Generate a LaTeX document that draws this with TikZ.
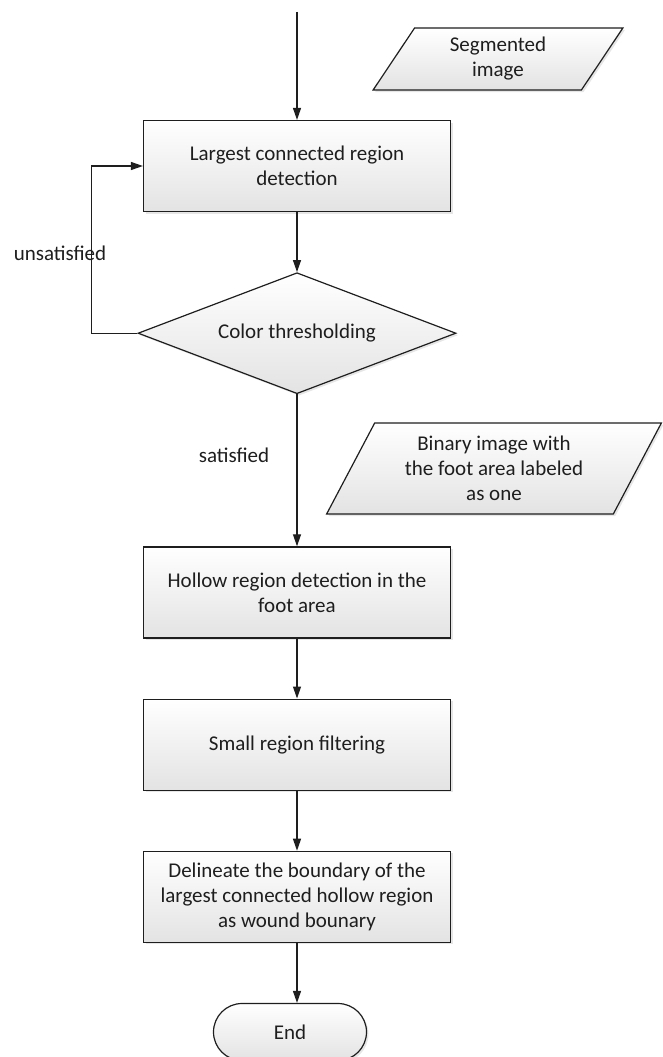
\documentclass[tikz,border=0pt]{standalone}
\usepackage{fontspec}
\setmainfont{Carlito}
\usepackage{tikz}
\usetikzlibrary{positioning,shapes.geometric,shapes.misc,shadows,arrows.meta}

\definecolor{inkgray}{HTML}{1E1E1E}
\tikzset{
  box/.style={draw=inkgray, line width=1.2pt, top color=white, bottom color=gray!22,
    drop shadow={opacity=0.2, shadow xshift=2pt, shadow yshift=-2pt},
    font=\fontsize{21pt}{25pt}\selectfont, text=inkgray, align=center},
  proc/.style={box, rectangle, minimum width=307pt, minimum height=91pt, inner sep=0pt},
  decide/.style={box, diamond, shape aspect=2.6, minimum width=318pt, minimum height=121pt, inner sep=0pt},
  io/.style={box, trapezium, trapezium left angle=61, trapezium right angle=119,
    trapezium stretches=true, inner sep=0pt},
  term/.style={box, rounded rectangle, minimum width=153pt, minimum height=57pt, inner sep=0pt},
  lbl/.style={font=\fontsize{21pt}{25pt}\selectfont, text=inkgray, inner sep=0pt},
  arrow/.style={draw=inkgray, line width=1.2pt, -{Triangle[length=12pt,width=8pt]}},
}

\begin{document}
\begin{tikzpicture}[x=1pt, y=-1pt, node distance=60pt]
  \useasboundingbox (0,0) rectangle (663,1057);

  % Define nodes
  \coordinate (T) at (297,12);
  \node[proc]                    (L) at (297,166) {Largest connected region\\detection};
  \node[decide, below=of L]      (C) {Color thresholding};
  \node[proc, below=152pt of C]  (H) {Hollow region detection in the\\foot area};
  \node[proc, below=of H]        (R) {Small region filtering};
  \node[proc, below=of R]        (D) {Delineate the boundary of the\\largest connected hollow region\\as wound bounary};
  \node[term, below=of D, xshift=-7pt] (E) {End};

  \node[io, minimum width=250pt, minimum height=62pt] (S) at (498,59) {Segmented\\image};
  \node[io, minimum width=335pt, minimum height=91pt] (B) at (494,468.5) {Binary image with\\the foot area labeled\\as one};

  \node[lbl] (U) at (60,253) {unsatisfied};
  \node[lbl] (Y) at (234,455) {satisfied};

  % Connect the nodes
  \draw[arrow] (T) -- (L);
  \draw[arrow] (L) -- (C);
  \draw[arrow] (C) -- (H);
  \draw[arrow] (H) -- (R);
  \draw[arrow] (R) -- (D);
  \draw[arrow] (D.south) -- (D.south |- E.north);
  \draw[arrow] (C.west) -- ++(-46,0) |- (L.west);
\end{tikzpicture}
\end{document}
